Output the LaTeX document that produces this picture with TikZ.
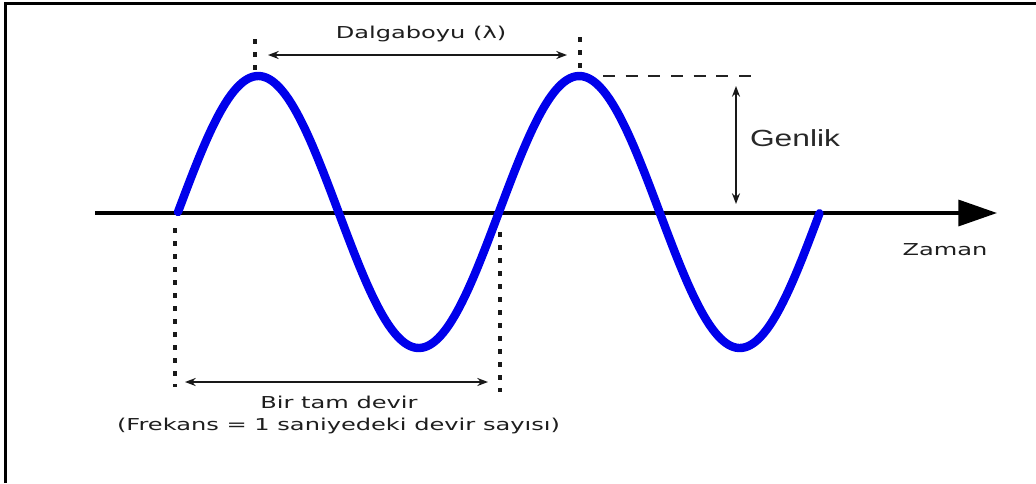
\documentclass[tikz,border=0pt]{standalone}
\usepackage{fontspec}
\setmainfont{DejaVu Sans}
\newfontfamily\arialfont{Liberation Sans}
\usetikzlibrary{arrows.meta}
\begin{document}
\begin{tikzpicture}[x=0.75pt,y=-0.75pt,
  frameline/.style={line width=2pt,black},
  wave/.style={line width=6.3pt,color={rgb,255:red,0;green,0;blue,235},line join=round,line cap=round},
  axisline/.style={line width=2.6pt,black,-{Triangle[length=29pt,width=19.5pt]}},
  dimarrow/.style={line width=1.5pt,color={rgb,255:red,25;green,25;blue,25},{Stealth[length=8pt,width=6pt]}-{Stealth[length=8pt,width=6pt]}},
  dotline/.style={line width=2.3pt,color={rgb,255:red,25;green,25;blue,25},dash pattern=on 3.75pt off 6pt},
  dashline/.style={line width=1.8pt,color={rgb,255:red,35;green,35;blue,35},dash pattern=on 9pt off 8pt},
  lbl/.style={anchor=base,inner sep=0pt,text={rgb,255:red,30;green,30;blue,30},font=\fontsize{12.3pt}{14pt}\selectfont},
  biglbl/.style={anchor=base,inner sep=0pt,text={rgb,255:red,40;green,40;blue,40},font=\arialfont\fontsize{17.5pt}{20pt}\selectfont}
]
\useasboundingbox (0,0) rectangle (1036,483);
\fill[white] (0,0) rectangle (1036,483);
% frame (top and left edges only)
\coordinate (fl) at (5.5,483);
\coordinate (fc) at (5.5,3.5);
\coordinate (fr) at (1036,3.5);
\draw[frameline] (fl) -- (fc) -- (fr);
% time axis
\coordinate (ax0) at (95,213);
\coordinate (ax1) at (997,213);
\draw[axisline] (ax0) -- (ax1);
% sine wave
\draw[wave] plot[domain=0:2,samples=240,smooth] ({178+321*\x},{212-136*sin(360*\x)});
% wavelength
\coordinate (dl1) at (255,39);
\coordinate (dl2) at (255,72);
\coordinate (dr1) at (580,37);
\coordinate (dr2) at (580,70);
\draw[dotline] (dl1) -- (dl2);
\draw[dotline] (dr1) -- (dr2);
\coordinate (wl) at (268,55);
\coordinate (wr) at (567,55);
\draw[dimarrow] (wl) -- (wr);
\node[lbl] (dal) at (421,38) {\scalebox{1.47}[1]{Dalgaboyu (λ)}};
% amplitude
\coordinate (pk0) at (603,76);
\coordinate (pk1) at (753,76);
\draw[dashline] (pk0) -- (pk1);
\coordinate (gt) at (736,86);
\coordinate (gb) at (736,204);
\draw[dimarrow] (gt) -- (gb);
\node[biglbl] (gen) at (795,146) {\scalebox{1.36}[1]{Genlik}};
% time label
\node[lbl] (zam) at (945,255) {\scalebox{1.47}[1]{Zaman}};
% one full cycle
\coordinate (bl1) at (175,228);
\coordinate (bl2) at (175,387);
\coordinate (br1) at (500,232);
\coordinate (br2) at (500,392);
\draw[dotline] (bl1) -- (bl2);
\draw[dotline] (br1) -- (br2);
\coordinate (cl) at (185,382);
\coordinate (cr) at (488,382);
\draw[dimarrow] (cl) -- (cr);
\node[lbl] (bir) at (339,408) {\scalebox{1.47}[1]{Bir tam devir}};
\node[lbl] (frek) at (338.5,430) {\scalebox{1.47}[1]{(Frekans = 1 saniyedeki devir sayısı)}};
\end{tikzpicture}
\end{document}
